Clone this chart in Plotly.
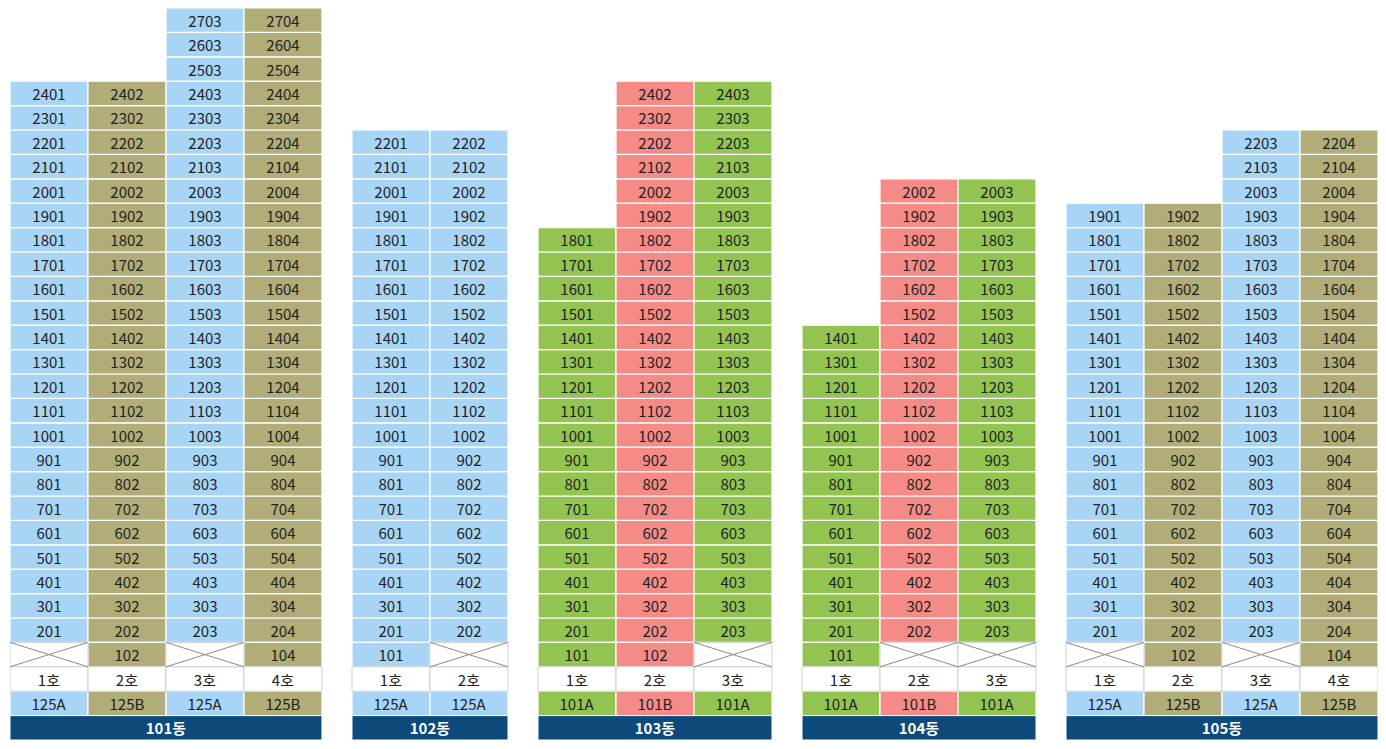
import plotly.graph_objects as go

buildings = ["101동", "102동", "103동", "104동", "105동"]
unit_types = [["125A", "125B", "125A", "125B"],
              ["125A", "125A"],
              ["101A", "101B", "101A"],
              ["101A", "101B", "101A"],
              ["125A", "125B", "125A", "125B"]]
top_floors = [[24, 24, 27, 27],
              [22, 22],
              [18, 24, 24],
              [14, 20, 20],
              [19, 19, 22, 22]]
has_first = [[False, True, False, True],
             [True, False],
             [True, True, False],
             [True, False, False],
             [False, True, False, True]]

colors = {"125A": "#a8d5f5", "125B": "#b1ad78", "101A": "#93c452", "101B": "#f58b87"}
GAP = 0.385

cx, cb, cc, ct = [], [], [], []   # colored cells
wx, wb, wt = [], [], []           # white cells (호 row, empty)
xs, ys = [], []                   # X marks
bx, bw, bt = [], [], []           # building labels

pos = 0.0
for b, name in enumerate(buildings):
    n = len(unit_types[b])
    start = pos
    for i in range(n):
        x = pos + 0.5
        t = unit_types[b][i]
        col = colors[t]
        for f in range(2, top_floors[b][i] + 1):
            cx.append(x); cb.append(f + 2); cc.append(col); ct.append(f"{f}{i+1:02d}")
        if has_first[b][i]:
            cx.append(x); cb.append(3); cc.append(col); ct.append(f"1{i+1:02d}")
        else:
            wx.append(x); wb.append(3); wt.append("")
            xs += [pos, pos + 1, None, pos, pos + 1, None]
            ys += [3, 4, None, 4, 3, None]
        wx.append(x); wb.append(2); wt.append(f"{i+1}호")
        cx.append(x); cb.append(1); cc.append(col); ct.append(t)
        pos += 1
    bx.append((start + pos) / 2); bw.append(n); bt.append(f"<b>{name}</b>")
    pos += GAP

font = dict(family="Noto Sans CJK KR", size=15, color="#222222")
fig = go.Figure()
fig.add_trace(go.Bar(x=cx, y=[1] * len(cx), base=cb, width=1, text=ct,
                     marker=dict(color=cc, line=dict(color="white", width=1.2)),
                     textposition="inside", insidetextanchor="middle", textangle=0,
                     textfont=font, constraintext="none", hoverinfo="skip"))
fig.add_trace(go.Bar(x=wx, y=[1] * len(wx), base=wb, width=1, text=wt,
                     marker=dict(color="white", line=dict(color="#cfcfcf", width=1)),
                     textposition="inside", insidetextanchor="middle", textangle=0,
                     textfont=font, constraintext="none", hoverinfo="skip"))
fig.add_trace(go.Scatter(x=xs, y=ys, mode="lines", line=dict(color="#8a8a8a", width=1),
                         hoverinfo="skip"))
fig.add_trace(go.Bar(x=bx, y=[1] * len(bx), base=0, width=bw, text=bt,
                     marker=dict(color="#0b4a7a", line=dict(color="white", width=1)),
                     textposition="inside", insidetextanchor="middle", textangle=0,
                     textfont=dict(family="Noto Sans CJK KR", size=15, color="white"),
                     constraintext="none", hoverinfo="skip"))

fig.update_layout(width=1370, height=733, barmode="overlay", showlegend=False,
                  plot_bgcolor="white", paper_bgcolor="white",
                  margin=dict(l=2, r=0, t=0, b=1))
fig.update_xaxes(range=[0, pos - GAP], visible=False, fixedrange=True)
fig.update_yaxes(range=[0, 30], visible=False, fixedrange=True)
fig.write_html("out.html")
